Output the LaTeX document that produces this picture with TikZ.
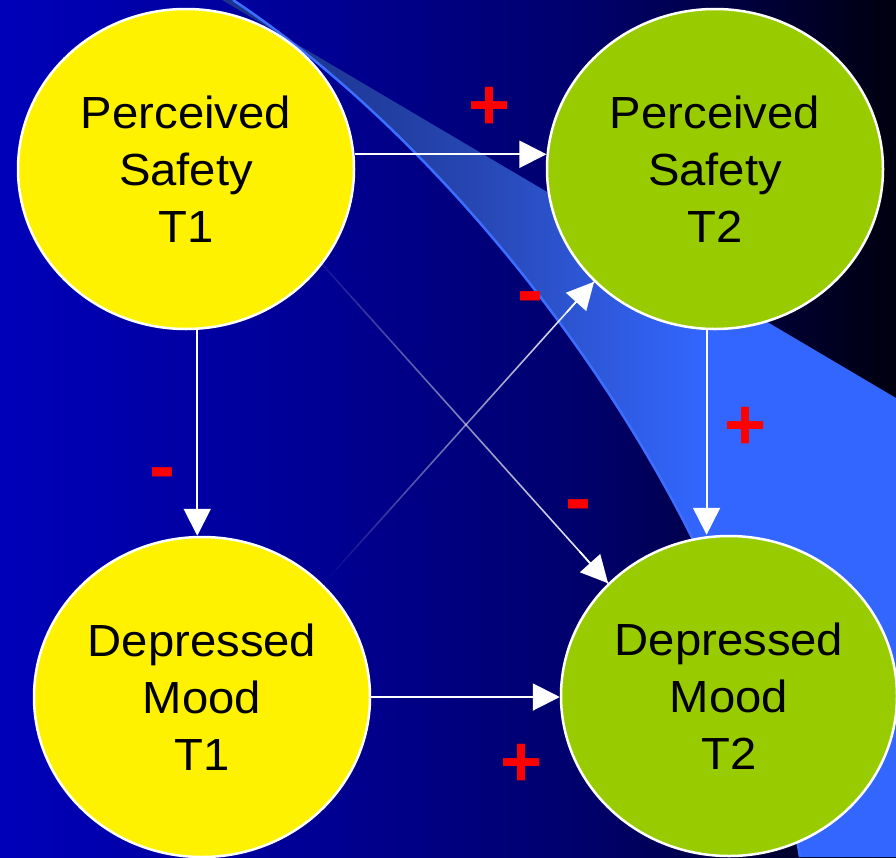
\documentclass[tikz,border=0pt]{standalone}
\usepackage{fontspec}
\usetikzlibrary{shapes.geometric,arrows.meta,calc}
\newfontfamily\nodefont[FakeStretch=1.05]{Liberation Sans}
\newfontfamily\signfont{Liberation Sans}

% background: deep blue fading to near black on the right
\definecolor{bgA}{RGB}{0,0,185}
\definecolor{bgB}{RGB}{0,0,150}
\definecolor{bgC}{RGB}{0,0,105}
\definecolor{bgD}{RGB}{0,0,15}
\pgfdeclarehorizontalshading{bgshade}{100bp}{color(0bp)=(bgA); color(25bp)=(bgA);
  color(41.74bp)=(bgB); color(58.48bp)=(bgC); color(75bp)=(bgD); color(100bp)=(bgD)}

% swoosh band
\definecolor{bandA}{RGB}{28,50,140}
\definecolor{bandB}{RGB}{30,56,150}
\definecolor{bandC}{RGB}{38,70,178}
\definecolor{bandD}{RGB}{45,85,210}
\definecolor{bandE}{RGB}{51,102,255}
\pgfdeclarehorizontalshading{bandshade}{100bp}{color(0bp)=(bandA); color(25bp)=(bandA);
  color(32.42bp)=(bandB); color(43.55bp)=(bandC); color(50.96bp)=(bandD);
  color(60.61bp)=(bandE); color(100bp)=(bandE)}
\definecolor{bandedge}{RGB}{60,110,255}
\definecolor{lategreen}{RGB}{153,204,0}

\tikzset{
  state/.style={ellipse, draw=white, line width=2.5pt, minimum width=336pt,
    minimum height=320pt, inner sep=0pt, align=center, text=black,
    font=\nodefont\fontsize{45}{57}\selectfont},
  early/.style={state, fill=yellow},
  late/.style={state, fill=lategreen},
  link/.style={draw=white, line width=2pt, -{Triangle[length=27pt,width=27pt]}},
  faint/.style={draw=white, line width=1.6pt},
  plussign/.style={text=red, inner sep=0pt, font=\signfont\bfseries\fontsize{72}{72}\selectfont},
  minussign/.style={text=red, inner sep=0pt, font=\signfont\bfseries\fontsize{78}{78}\selectfont}
}

\begin{document}
\begin{tikzpicture}[x=1pt,y=-1pt]
\useasboundingbox (0,0) rectangle (896,857);
\clip (0,0) rectangle (896,857);

% backdrop and swoosh
\shade[shading=bgshade] (0,0) rectangle (896,857);
\shade[shading=bandshade] (222,0) -- (896,398) -- (896,857) -- (800,857)
  .. controls (740,497) and (460,150) .. (233,0) -- cycle;
\draw[bandedge, line width=2.5pt] (233,0) .. controls (460,150) and (740,497) .. (800,857);

% the four states
\node[early] (ps1) at (186,169) {Perceived\\Safety\\T1};
\node[late]  (ps2) at (715,169) {Perceived\\Safety\\T2};
\node[early] (dm1) at (202,697) {Depressed\\Mood\\T1};
\node[late]  (dm2) at (729,696) {Depressed\\Mood\\T2};

% stability and cross-sectional paths
\draw[link] (ps1.5) -- (ps2.175);
\draw[link] (dm1.east) -- (dm1.east -| dm2.west);
\draw[link] (ps1.-86) -- (ps1.-86 |- dm1.north);
\draw[link] (ps2.-93) -- (ps2.-93 |- dm2.north);

% cross-lagged paths, fading in from their source
\foreach \k [evaluate=\k as \op using 0.08+0.92*\k/40,
             evaluate=\k as \ta using \k/40,
             evaluate=\k as \tb using (\k+1)/40] in {0,...,39} {
  \draw[faint, draw opacity=\op] ($(ps1.-35)!\ta!(dm2.137)$) -- ($(ps1.-35)!\tb!(dm2.137)$);
}
\draw[link, line width=1.6pt] ($(ps1.-35)!0.9!(dm2.137)$) -- (dm2.137);

\foreach \k [evaluate=\k as \op using \k/40,
             evaluate=\k as \ta using \k/40,
             evaluate=\k as \tb using (\k+1)/40] in {0,...,39} {
  \draw[faint, draw opacity=\op] ($(dm1.43)!\ta!(ps2.223)$) -- ($(dm1.43)!\tb!(ps2.223)$);
}
\draw[link, line width=1.6pt] ($(dm1.43)!0.9!(ps2.223)$) -- (ps2.223);

% signs of the effects
\node[plussign]  (s1) at (490,108) {+};
\node[plussign]  (s2) at (746,428) {+};
\node[plussign]  (s3) at (522,765) {+};
\node[minussign] (s4) at (162,480) {-};
\node[minussign] (s5) at (530,304) {-};
\node[minussign] (s6) at (578,512) {-};
\end{tikzpicture}
\end{document}
